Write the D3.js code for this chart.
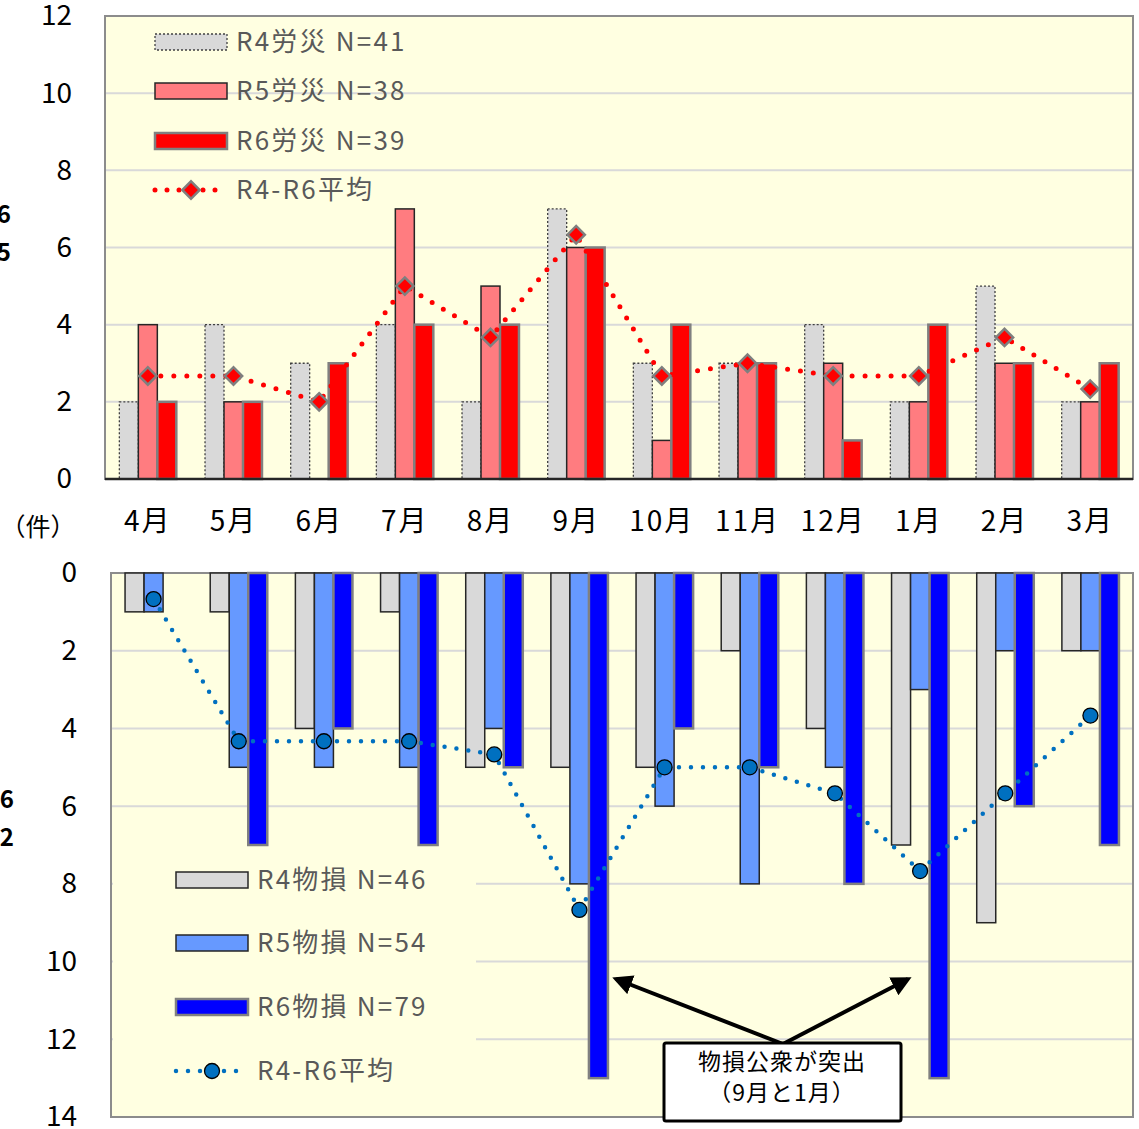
<!DOCTYPE html>
<html>
<head>
<meta charset="utf-8">
<script src="https://cdn.jsdelivr.net/npm/d3@7"></script>
<style>
body { margin: 0; background: #fff; }
text { font-family: "Noto Sans CJK JP", "Noto Sans", sans-serif; }
</style>
</head>
<body>
<svg id="chart" width="1139" height="1129"></svg>
<script>
var months = ["4月", "5月", "6月", "7月", "8月", "9月", "10月", "11月", "12月", "1月", "2月", "3月"];

// 労災 (upper panel)
var rousaiR4 = [2, 4, 3, 4, 2, 7, 3, 3, 4, 2, 5, 2];
var rousaiR5 = [4, 2, 0, 7, 5, 6, 1, 3, 3, 2, 3, 2];
var rousaiR6 = [2, 2, 3, 4, 4, 6, 4, 3, 1, 4, 3, 3];
var rousaiAvg = [2.67, 2.67, 2.0, 5.0, 3.67, 6.33, 2.67, 3.0, 2.67, 2.67, 3.67, 2.33];
var rousaiTicks = [0, 2, 4, 6, 8, 10, 12];
var rousaiLegend = ["R4労災 N=41", "R5労災 N=38", "R6労災 N=39", "R4-R6平均"];

// 物損 (lower panel, drawn downward)
var busonR4 = [1, 1, 4, 1, 5, 5, 5, 2, 4, 7, 9, 2];
var busonR5 = [1, 5, 5, 5, 4, 8, 6, 8, 5, 3, 2, 2];
var busonR6 = [0, 7, 4, 7, 5, 13, 4, 5, 8, 13, 6, 7];
var busonAvg = [0.67, 4.33, 4.33, 4.33, 4.67, 8.67, 5.0, 5.0, 5.67, 7.67, 5.67, 3.67];
var busonTicks = [0, 2, 4, 6, 8, 10, 12, 14];
var busonLegend = ["R4物損 N=46", "R5物損 N=54", "R6物損 N=79", "R4-R6平均"];

var noteLines = ["物損公衆が突出", "（9月と1月）"];

var svg = d3.select("#chart");
var bg = "#ffffe1";
var legendGrey = "#595959";

function drawPanel(cfg) {
    var g = svg.append("g");

    var x = d3.scaleBand().domain(months)
        .range([cfg.left, cfg.right])
        .paddingInner(cfg.pad).paddingOuter(cfg.pad / 2);
    var xs = d3.scaleBand().domain([0, 1, 2]).range([0, x.bandwidth()]);
    var y = d3.scaleLinear().domain([0, cfg.max])
        .range(cfg.down ? [cfg.top, cfg.bottom] : [cfg.bottom, cfg.top]);

    g.append("rect")
        .attr("x", cfg.left).attr("y", cfg.top)
        .attr("width", cfg.right - cfg.left).attr("height", cfg.bottom - cfg.top)
        .attr("fill", bg);

    // grid lines
    g.selectAll(".grid")
        .data(cfg.ticks.filter(function (t) { return t > 0 && t < cfg.max; }))
        .enter().append("line")
        .attr("x1", cfg.left).attr("x2", cfg.right)
        .attr("y1", function (d) { return y(d); })
        .attr("y2", function (d) { return y(d); })
        .attr("stroke", "#d9d9d9").attr("stroke-width", 2);

    // legend box hides the grid on the lower panel
    if (cfg.legendBox) {
        g.append("rect")
            .attr("x", cfg.legendBox[0]).attr("y", cfg.legendBox[1])
            .attr("width", cfg.legendBox[2]).attr("height", cfg.legendBox[3])
            .attr("fill", bg);
    }

    // frame
    g.append("rect")
        .attr("x", cfg.left).attr("y", cfg.top)
        .attr("width", cfg.right - cfg.left).attr("height", cfg.bottom - cfg.top)
        .attr("fill", "none").attr("stroke", "#8c8c8c").attr("stroke-width", 2);

    // bars
    cfg.series.forEach(function (s, i) {
        var rows = s.values.map(function (v, j) { return { m: months[j], v: v }; })
            .filter(function (d) { return d.v > 0; });
        g.selectAll(null).data(rows).enter().append("rect")
            .attr("x", function (d) { return x(d.m) + xs(i); })
            .attr("width", xs.bandwidth())
            .attr("y", function (d) { return cfg.down ? y(0) : y(d.v); })
            .attr("height", function (d) { return Math.abs(y(d.v) - y(0)); })
            .attr("fill", s.fill)
            .attr("stroke", s.stroke)
            .attr("stroke-width", s.sw)
            .attr("stroke-dasharray", s.dash || null);
    });

    if (!cfg.down) {
        g.append("line")
            .attr("x1", cfg.left).attr("x2", cfg.right)
            .attr("y1", cfg.bottom).attr("y2", cfg.bottom)
            .attr("stroke", "#262626").attr("stroke-width", 2.5);
    }

    // average line
    var pts = cfg.avg.map(function (v, j) { return [x(months[j]) + x.bandwidth() / 2, y(v)]; });
    g.append("path")
        .attr("d", d3.line()(pts))
        .attr("fill", "none")
        .attr("stroke", cfg.avgColor)
        .attr("stroke-width", cfg.dotW)
        .attr("stroke-linecap", "round")
        .attr("stroke-dasharray", "0 " + cfg.dotGap);

    drawMarkers(g, pts, cfg);

    // y axis labels
    var yAxis = d3.axisLeft(y).tickValues(cfg.ticks).tickSize(0).tickPadding(cfg.tickPad);
    var ya = g.append("g").attr("transform", "translate(" + cfg.left + ",0)").call(yAxis);
    ya.select(".domain").remove();
    ya.selectAll("text")
        .attr("font-size", 28).attr("fill", "#000")
        .style("font-family", '"Noto Sans CJK JP", sans-serif');

    // legend
    var lg = g.append("g");
    cfg.legend.forEach(function (label, i) {
        var ly = cfg.legendY[i];
        if (i < 3) {
            var s = cfg.series[i];
            lg.append("rect")
                .attr("x", cfg.legendX).attr("y", ly - 8)
                .attr("width", 72).attr("height", 16)
                .attr("fill", s.fill).attr("stroke", s.stroke)
                .attr("stroke-width", s.sw)
                .attr("stroke-dasharray", s.dash || null);
        } else {
            lg.append("line")
                .attr("x1", cfg.legendX).attr("x2", cfg.legendX + 68)
                .attr("y1", ly).attr("y2", ly)
                .attr("stroke", cfg.avgColor)
                .attr("stroke-width", cfg.dotW)
                .attr("stroke-linecap", "round")
                .attr("stroke-dasharray", "0 12");
            drawMarkers(lg, [[cfg.legendX + 36, ly]], cfg);
        }
        lg.append("text")
            .attr("x", cfg.legendX + 81).attr("y", ly)
            .attr("dy", "0.35em")
            .attr("font-size", 26)
            .attr("letter-spacing", 2.2)
            .attr("fill", legendGrey)
            .text(label);
    });

    return x;
}

function drawMarkers(g, pts, cfg) {
    if (cfg.marker === "diamond") {
        g.selectAll(null).data(pts).enter().append("path")
            .attr("d", d3.symbol(d3.symbolSquare, 150)())
            .attr("transform", function (d) { return "translate(" + d[0] + "," + d[1] + ") rotate(45)"; })
            .attr("fill", "#ff0000").attr("stroke", "#7f7f7f").attr("stroke-width", 2.5);
    } else {
        g.selectAll(null).data(pts).enter().append("circle")
            .attr("cx", function (d) { return d[0]; })
            .attr("cy", function (d) { return d[1]; })
            .attr("r", 7.5)
            .attr("fill", "#0070c0").attr("stroke", "#000").attr("stroke-width", 1.3);
    }
}

var xTop = drawPanel({
    left: 105, right: 1133, top: 16, bottom: 479, max: 12, down: false, pad: 0.335,
    ticks: rousaiTicks, tickPad: 33,
    series: [
        { values: rousaiR4, fill: "#d9d9d9", stroke: "#404040", sw: 1.3, dash: "2 2" },
        { values: rousaiR5, fill: "#ff7c80", stroke: "#262626", sw: 1.5 },
        { values: rousaiR6, fill: "#ff0000", stroke: "#808080", sw: 2.5 }
    ],
    avg: rousaiAvg, avgColor: "#ff0000", dotW: 5, dotGap: 13, marker: "diamond",
    legend: rousaiLegend, legendX: 155, legendY: [42, 91, 141, 190]
});

drawPanel({
    left: 111, right: 1133, top: 573, bottom: 1117, max: 14, down: true, pad: 0.33,
    ticks: busonTicks, tickPad: 34,
    series: [
        { values: busonR4, fill: "#d9d9d9", stroke: "#262626", sw: 1.5 },
        { values: busonR5, fill: "#6699ff", stroke: "#262626", sw: 1.5 },
        { values: busonR6, fill: "#0000ff", stroke: "#808080", sw: 2.5 }
    ],
    avg: busonAvg, avgColor: "#0070c0", dotW: 4.5, dotGap: 12, marker: "circle",
    legend: busonLegend, legendX: 176, legendY: [880, 943, 1007, 1071],
    legendBox: [113, 850, 363, 265]
});

// month labels between the panels
var xAxis = d3.axisBottom(xTop).tickSize(0).tickPadding(0);
var xa = svg.append("g").attr("transform", "translate(0,479)").call(xAxis);
xa.select(".domain").remove();
xa.selectAll("text")
    .attr("y", 42).attr("dy", "0.35em")
    .attr("font-size", 28).attr("letter-spacing", 2).attr("fill", "#000")
    .style("font-family", '"Noto Sans CJK JP", sans-serif');

svg.append("text")
    .attr("x", 38).attr("y", 527).attr("dy", "0.35em")
    .attr("text-anchor", "middle")
    .attr("font-size", 25).attr("fill", "#000")
    .text("（件）");

// clipped labels at the left edge
var cut = [["6", 215], [".5", 253], ["6", 800], [".2", 838]];
svg.selectAll(null).data(cut).enter().append("text")
    .attr("x", function (d, i) { return i < 2 ? 11 : 14; })
    .attr("y", function (d) { return d[1]; })
    .attr("dy", "0.35em")
    .attr("text-anchor", "end")
    .attr("font-size", 24).attr("font-weight", "bold").attr("fill", "#000")
    .text(function (d) { return d[0]; });

// annotation
svg.append("defs").append("marker")
    .attr("id", "arrow").attr("viewBox", "0 0 10 10")
    .attr("refX", 8).attr("refY", 5)
    .attr("markerWidth", 5).attr("markerHeight", 5)
    .attr("orient", "auto")
    .append("path").attr("d", "M0,0 L10,5 L0,10 z").attr("fill", "#000");

var origin = [783, 1044];
[[616, 979], [908, 979]].forEach(function (tip) {
    svg.append("line")
        .attr("x1", origin[0]).attr("y1", origin[1])
        .attr("x2", tip[0]).attr("y2", tip[1])
        .attr("stroke", "#000").attr("stroke-width", 4)
        .attr("marker-end", "url(#arrow)");
});

svg.append("rect")
    .attr("x", 664).attr("y", 1043).attr("width", 237).attr("height", 78)
    .attr("rx", 2)
    .attr("fill", "#fff").attr("stroke", "#000").attr("stroke-width", 3);

svg.selectAll(null).data(noteLines).enter().append("text")
    .attr("x", 782)
    .attr("y", function (d, i) { return 1062 + i * 31; })
    .attr("dy", "0.35em")
    .attr("text-anchor", "middle")
    .attr("font-size", 23).attr("letter-spacing", 1).attr("fill", "#000")
    .text(function (d) { return d; });
</script>
</body>
</html>
